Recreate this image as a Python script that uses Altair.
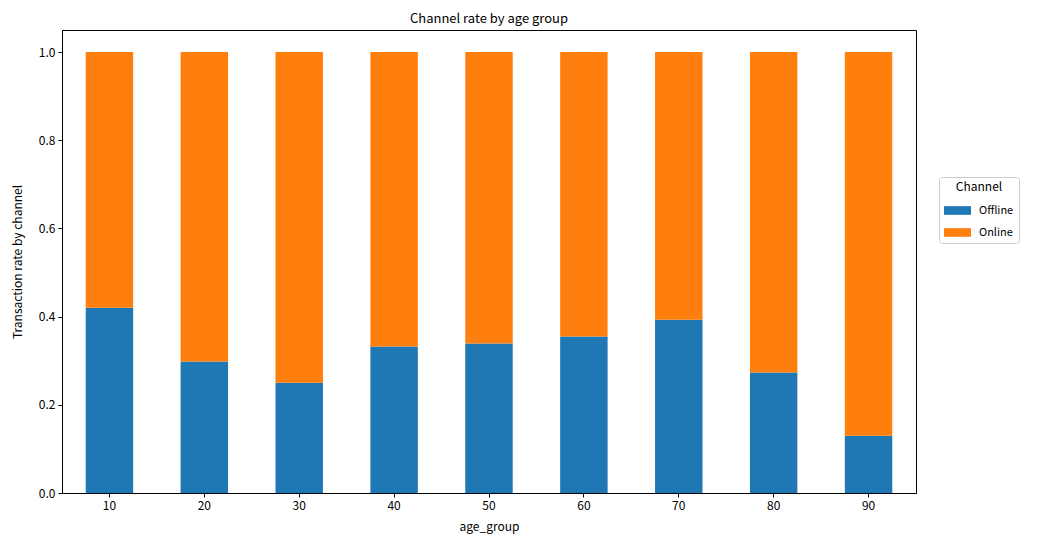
import altair as alt
import pandas as pd

age_groups = ["10", "20", "30", "40", "50", "60", "70", "80", "90"]
offline = [0.420, 0.298, 0.250, 0.332, 0.339, 0.355, 0.393, 0.273, 0.130]
online = [round(1 - v, 3) for v in offline]
channels = ["Offline", "Online"]
colors = ["#1f77b4", "#ff7f0e"]

rows = []
for a, off, on in zip(age_groups, offline, online):
    rows.append({"age_group": a, "Channel": "Offline", "rate": off, "ord": 0})
    rows.append({"age_group": a, "Channel": "Online", "rate": on, "ord": 1})
df = pd.DataFrame(rows)

FONT = "Noto Sans CJK KR"

chart = alt.Chart(df).mark_bar().encode(
    x=alt.X("age_group:N", sort=age_groups,
            scale=alt.Scale(paddingInner=0.5, paddingOuter=0.25),
            axis=alt.Axis(title="age_group", labelAngle=0, tickSize=4,
                          domainColor="black", tickColor="black",
                          labelColor="black", titleColor="black",
                          labelFontSize=12, titleFontSize=12,
                          titleFontWeight="normal", labelPadding=3, titlePadding=10)),
    y=alt.Y("rate:Q", stack="zero",
            scale=alt.Scale(domain=[0, 1.05], nice=False),
            axis=alt.Axis(title="Transaction rate by channel", values=[0, 0.2, 0.4, 0.6, 0.8, 1.0],
                          format=".1f", grid=False, tickSize=4,
                          domainColor="black", tickColor="black",
                          labelColor="black", titleColor="black",
                          labelFontSize=12, titleFontSize=12,
                          titleFontWeight="normal", labelPadding=3, titlePadding=14)),
    color=alt.Color("Channel:N", scale=alt.Scale(domain=channels, range=colors),
                    legend=alt.Legend(title="Channel", orient="none", legendX=877, legendY=147,
                                      symbolType="M-1,-0.32L1,-0.32L1,0.32L-1,0.32Z",
                                      symbolSize=729, symbolStrokeWidth=0,
                                      symbolOffset=0, labelOffset=8, rowPadding=3,
                                      strokeColor="#cccccc", cornerRadius=3, padding=5,
                                      fillColor="white", titlePadding=3,
                                      titleFontWeight="normal", titleFontSize=12,
                                      labelFontSize=11, titleAnchor="middle",
                                      titleColor="black", labelColor="black")),
    order=alt.Order("ord:Q", sort="ascending"),
).properties(
    width=854, height=463,
    title=alt.TitleParams("Channel rate by age group", fontSize=13, fontWeight="normal",
                          color="black", offset=4),
    autosize=alt.AutoSizeParams(type="none"),
    padding={"left": 54, "top": 22, "right": 110, "bottom": 44},
).configure(
    font=FONT
).configure_view(
    stroke="black", strokeWidth=1
)

chart.save("out.html", embed_options={"renderer": "svg", "actions": False})
